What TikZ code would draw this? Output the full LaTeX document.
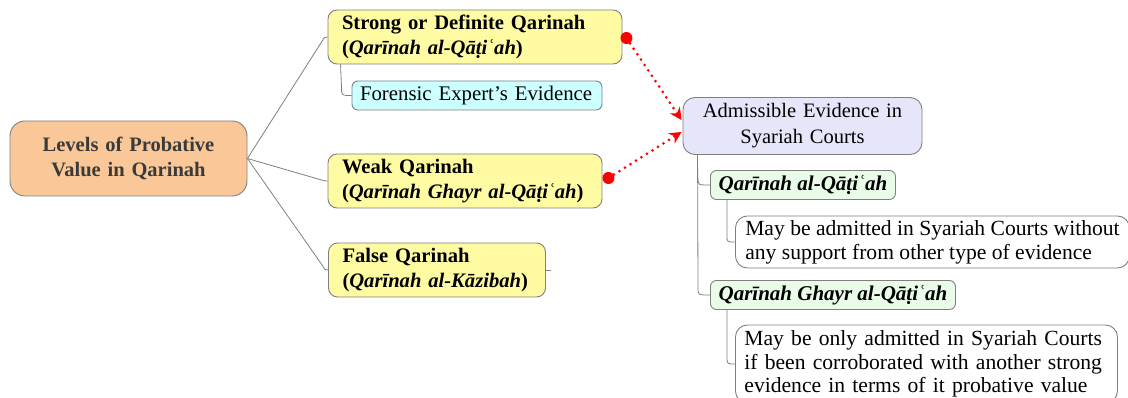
\documentclass[tikz,border=0pt]{standalone}
\usepackage{fontspec}
\setmainfont{Liberation Serif}
\usetikzlibrary{arrows.meta,calc}
\definecolor{rootfill}{HTML}{FAC898}
\definecolor{yelfill}{HTML}{FFFBA3}
\definecolor{cyanfill}{HTML}{CCFFFF}
\definecolor{lavfill}{HTML}{E6E6FA}
\definecolor{greenfill}{HTML}{E8FCE8}
\definecolor{edge}{HTML}{7F7F7F}
\definecolor{rootink}{HTML}{3A3A3A}
\tikzset{
  base/.style={draw=edge, line width=0.9pt, rounded corners=9pt, inner ysep=0pt,
    font=\fontsize{20.8}{24.5}\selectfont},
  rootbox/.style={base, fill=rootfill, rounded corners=15pt, align=center,
    text=rootink, font=\fontsize{20.5}{25}\selectfont\bfseries},
  ybox/.style={base, fill=yelfill, align=left, inner xsep=14pt,
    minimum height=54pt, font=\fontsize{20.6}{24.5}\selectfont\bfseries},
  cbox/.style={base, fill=cyanfill, align=left, inner xsep=8pt, minimum height=29pt,
    rounded corners=6pt},
  lbox/.style={base, fill=lavfill, align=center, inner xsep=9pt, minimum height=57pt,
    rounded corners=12pt, font=\fontsize{20.5}{26}\selectfont},
  gbox/.style={base, fill=greenfill, anchor=west, inner xsep=4pt, minimum height=29pt,
    rounded corners=6pt, font=\fontsize{21}{24}\selectfont\bfseries\itshape},
  dbox/.style={base, fill=white, anchor=west, align=left, inner xsep=9pt, rounded corners=12pt,
    font=\fontsize{21.6}{23.8}\selectfont},
  link/.style={draw=edge, line width=0.8pt},
  reddots/.style={red, line width=3pt, line cap=round, dash pattern=on 0pt off 6.5pt,
    -{Stealth[length=12pt,width=12pt,line cap=butt]}},
}
\newcommand{\qq}{Qarīnah}
\newcommand{\qat}{al-Qāṭiʿah}
\begin{document}
\begin{tikzpicture}[x=1pt,y=-1pt]
\useasboundingbox (0,0) rectangle (1128,398);
\clip (0,0) rectangle (1128,398);

% root and first level
\node[rootbox, text width=209pt, inner xsep=14pt, minimum height=75pt] (root) at (128.5,158.5)
  {Levels of Probative\\Value in Qarinah};
\node[ybox, text width=266pt] (strong) at (475,37)
  {Strong or Definite Qarinah\\(\textit{\qq{} \qat})};
\node[cbox, text width=234pt] (forensic) at (477,95.5) {Forensic Expert’s Evidence};
\node[ybox, text width=246pt] (weak) at (465,181)
  {Weak Qarinah\\(\textit{\qq{} Ghayr \qat})};
\node[ybox, text width=189pt] (false) at (437,270)
  {False Qarinah\\(\textit{\qq{} al-Kāzibah})};

% admissibility branch
\node[lbox, text width=221pt] (adm) at (802.5,126)
  {Admissible Evidence in\\Syariah Courts};
\node[gbox, minimum width=185pt] (g1) at (710,185) {\qq{} \qat};
\node[dbox, minimum width=394pt, minimum height=52pt] (d1) at (735,242)
  {May be admitted in Syariah Courts without\\any support from other type of evidence};
\node[gbox, minimum width=245pt] (g2) at (710,295) {\qq{} Ghayr \qat};
\node[dbox, text width=364pt, minimum height=78pt] (d2) at (735,364)
  {May be only admitted in Syariah Courts\\if been corroborated with another strong\\evidence in terms of it probative value};

% tree connectors
\draw[link] (root.east) -- ($(strong.west)+(-6,5)$) .. controls ($(strong.west)+(-3,0)$) .. (strong.west);
\draw[link] (root.east) -- ($(weak.west)+(-6,-1)$) .. controls ($(weak.west)+(-2,0)$) .. (weak.west);
\draw[link] (root.east) -- ($(false.west)+(-6,-5)$) .. controls ($(false.west)+(-3,0)$) .. (false.west);
\draw[link] (false.east) -- ++(5,0);
\draw[link] ($(strong.south west)+(13,0)$) -- ($(forensic.west)+(-10,-7)$)
  .. controls ($(forensic.west)+(-10,0)$) .. (forensic.west);
\coordinate (trunk) at ($(adm.south west)+(15,0)$);
\draw[link] (trunk) -- ($(g2.west)+(-12,-7)$)
  .. controls ($(g2.west)+(-12,0)$) .. (g2.west);
\draw[link] ($(g1.west)+(-12,-7)$) .. controls ($(g1.west)+(-12,0)$) .. (g1.west);
\draw[link] ($(g1.south west)+(17,0)$) -- ($(d1.west)+(-8,-6)$)
  .. controls ($(d1.west)+(-8,0)$) .. (d1.west);
\draw[link] ($(g2.south west)+(17,0)$) -- ($(d2.west)+(-8,-8)$)
  .. controls ($(d2.west)+(-8,0)$) .. (d2.west);

% red dotted links to the admissibility node
\coordinate (s1) at ($(strong.east)+(4,1)$);
\coordinate (s2) at ($(weak.east)+(6,-3)$);
\coordinate (t1) at ($(adm.west)+(-1,-6)$);
\coordinate (t2) at ($(adm.west)+(-1,6)$);
\fill[red] (s1) circle (6pt);
\fill[red] (s2) circle (6pt);
\draw[reddots] (s1) -- (t1);
\draw[reddots] (s2) -- (t2);
\end{tikzpicture}
\end{document}
